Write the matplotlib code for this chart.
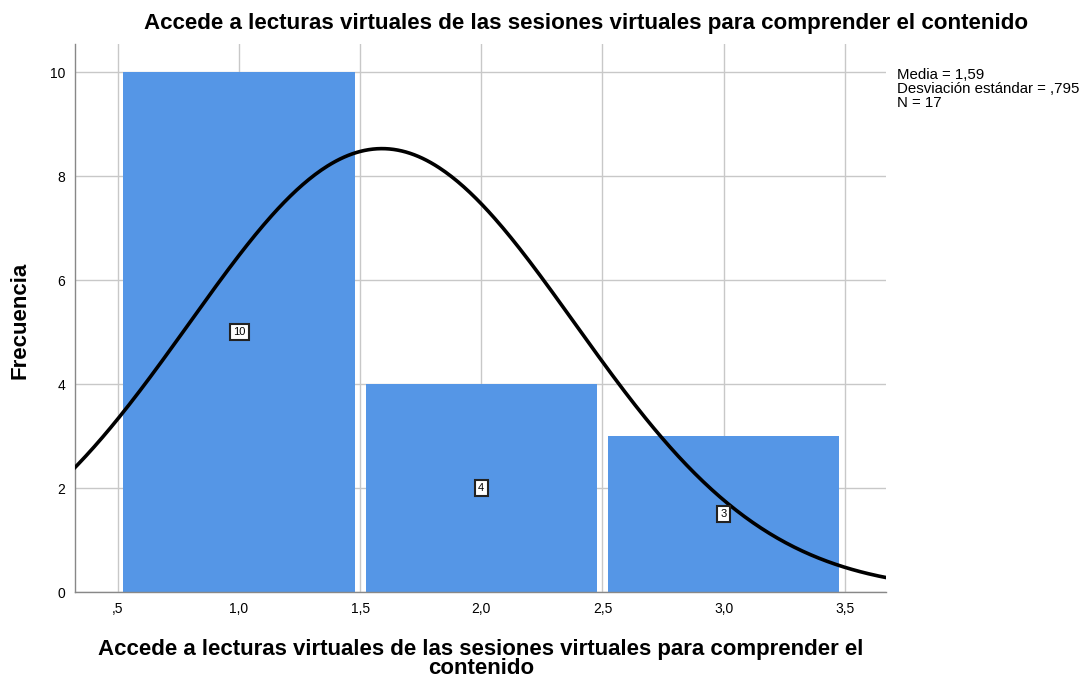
import numpy as np
import matplotlib.pyplot as plt

plt.rcParams['font.family'] = ['Liberation Sans', 'DejaVu Sans']

# histogram data
bin_centers = [1.0, 2.0, 3.0]
counts = [10, 4, 3]
media = 1.59
desv = 0.795
n = 17

xticks = [0.5, 1.0, 1.5, 2.0, 2.5, 3.0, 3.5]
xticklabels = [',5', '1,0', '1,5', '2,0', '2,5', '3,0', '3,5']
yticks = [0, 2, 4, 6, 8, 10]

titulo = 'Accede a lecturas virtuales de las sesiones virtuales para comprender el contenido'
xlabel_lines = ['Accede a lecturas virtuales de las sesiones virtuales para comprender el', 'contenido']

fig = plt.figure(figsize=(10.87, 6.8), dpi=100)
ax = fig.add_axes([0.069, 0.1294, 0.746, 0.8056])

ax.bar(bin_centers, counts, width=0.955, color='#5596e6', zorder=2)

# counts in small boxes at half height
for x, c in zip(bin_centers, counts):
    ax.text(x, c / 2, str(c), ha='center', va='center', fontsize=8, zorder=4,
            bbox=dict(boxstyle='square,pad=0.3', facecolor='white', edgecolor='#222222', linewidth=1.5))

# normal curve scaled to counts (bin width 1)
xs = np.linspace(0.3, 3.7, 400)
ys = n * 1.0 / (desv * np.sqrt(2 * np.pi)) * np.exp(-0.5 * ((xs - media) / desv) ** 2)
ax.plot(xs, ys, color='black', linewidth=2.6, zorder=3)

ax.set_xlim(0.323, 3.67)
ax.set_ylim(0, 10.54)
ax.set_xticks(xticks)
ax.set_xticklabels(xticklabels)
ax.set_yticks(yticks)
ax.tick_params(length=0, labelsize=10, pad=7)
ax.grid(True, color='#c8c8c8', linewidth=1, zorder=0)
ax.set_axisbelow(True)
for s in ['top', 'right']:
    ax.spines[s].set_visible(False)
for s in ['left', 'bottom']:
    ax.spines[s].set_color('#888888')
    ax.spines[s].set_linewidth(1)

fig.text(586 / 1087, 1 - 24 / 680, titulo, fontsize=16.1, fontweight='bold',
         ha='center', va='center')
fig.text(481 / 1087, 1 - 649 / 680, xlabel_lines[0], fontsize=16, fontweight='bold',
         ha='center', va='center')
fig.text(481 / 1087, 1 - 669 / 680, xlabel_lines[1], fontsize=16, fontweight='bold',
         ha='center', va='center')
fig.text(20 / 1087, 1 - 320 / 680, 'Frecuencia', fontsize=16, fontweight='bold',
         ha='center', va='center', rotation=90)

fig.text(0.825, 1 - 68 / 680, 'Media = 1,59\nDesviación estándar = ,795\nN = 17',
         fontsize=10.8, va='top', ha='left', linespacing=1.0)

fig.savefig('out.png', dpi=100)
